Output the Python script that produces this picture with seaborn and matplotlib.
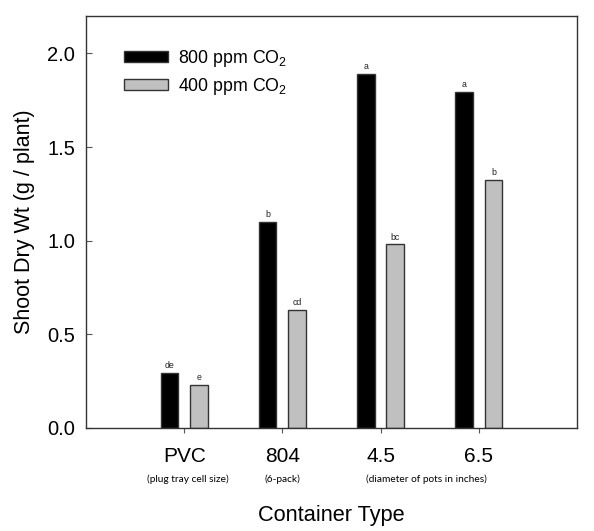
import numpy as np
import pandas as pd
import matplotlib
matplotlib.use("Agg")
import matplotlib.pyplot as plt
import seaborn as sns

# data
containers = ["PVC", "804", "4.5", "6.5"]
high_co2 = [0.295, 1.10, 1.89, 1.795]
low_co2 = [0.23, 0.63, 0.98, 1.325]
high_letters = ["de", "b", "a", "a"]
low_letters = ["e", "cd", "bc", "b"]
series_names = ["800 ppm CO$_2$", "400 ppm CO$_2$"]
sub_labels = ["(plug tray cell size)", "(6-pack)", "(diameter of pots in inches)"]

df = pd.DataFrame({
    "Container": containers * 2,
    "Weight": high_co2 + low_co2,
    "CO2": [series_names[0]] * 4 + [series_names[1]] * 4,
})

sns.set_style("white")
plt.rcParams["font.family"] = ["Liberation Sans", "DejaVu Sans"]
plt.rcParams["mathtext.default"] = "regular"
plt.rcParams["text.color"] = "black"
plt.rcParams["axes.labelcolor"] = "black"
plt.rcParams["xtick.color"] = "black"
plt.rcParams["ytick.color"] = "black"

fig = plt.figure(figsize=(5.94, 5.31), dpi=100)
ax = fig.add_axes([0.145, 0.194, 0.826, 0.776])

sns.barplot(
    data=df, x="Container", y="Weight", hue="CO2",
    palette=["black", "#c0c0c0"], width=0.6, gap=0.4,
    edgecolor="#333333", linewidth=1.0, ax=ax,
)

for cont, letters in zip(ax.containers, [high_letters, low_letters]):
    ax.bar_label(cont, labels=letters, padding=2, fontsize=6.3,
                 color="#222222")

ax.set_xlim(-1, 4)
ax.set_ylim(0, 2.2)
ax.set_yticks([0.0, 0.5, 1.0, 1.5, 2.0])
ax.set_yticklabels(["0.0", "0.5", "1.0", "1.5", "2.0"])
ax.tick_params(axis="y", left=True, direction="in", length=4, width=0.8,
               pad=8, labelsize=14.5, color="#555555")
ax.tick_params(axis="x", bottom=True, direction="out", length=3.5, width=0.8,
               pad=10, labelsize=15, color="#555555")
for sp in ax.spines.values():
    sp.set_visible(True)
    sp.set_color("#333333")
    sp.set_linewidth(1.0)

ax.set_ylabel("Shoot Dry Wt (g / plant)", fontsize=15.5, labelpad=9)
ax.set_xlabel("Container Type", fontsize=15.7, labelpad=28)

# small notes under the tick labels
sub_font = ["Lato", "DejaVu Sans"]
trans = ax.get_xaxis_transform()
for xpos, txt in zip([0.04, 1.0, 2.47], sub_labels):
    ax.text(xpos, -0.124, txt, transform=trans, ha="center", va="center",
            fontsize=7.3, family=sub_font)

ax.legend(loc="upper left", bbox_to_anchor=(0.045, 0.962), frameon=False,
          fontsize=12.8, handlelength=2.45, handleheight=0.6,
          labelspacing=0.42, handletextpad=0.6)

fig.savefig("out.png", dpi=100)
